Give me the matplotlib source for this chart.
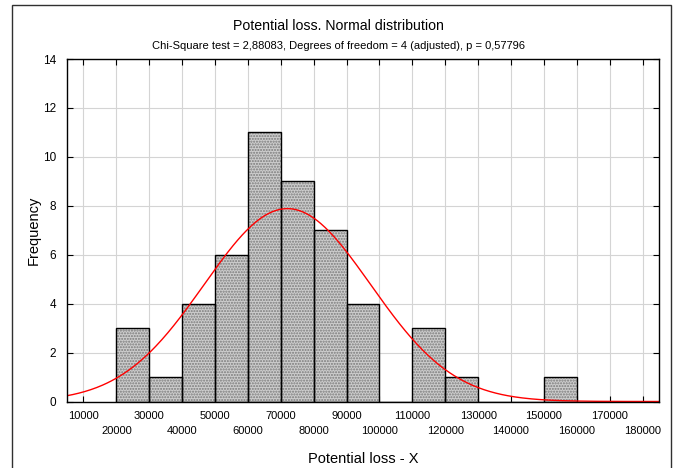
import numpy as np
import matplotlib
matplotlib.use("Agg")
import matplotlib.pyplot as plt
from matplotlib.patches import Rectangle

plt.rcParams["font.family"] = ["Liberation Sans", "DejaVu Sans"]

# histogram of potential loss, bin width 10000
bin_left = [20000, 30000, 40000, 50000, 60000, 70000, 80000,
            90000, 100000, 110000, 120000, 130000, 140000, 150000]
counts = [3, 1, 4, 6, 11, 9, 7, 4, 0, 3, 1, 0, 0, 1]
bin_width = 10000

# fitted normal
fit_mean = 72000
fit_sd = 25300

# x labels alternate between two rows
x_ticks_upper = list(range(10000, 180000, 20000))
x_ticks_lower = list(range(20000, 190000, 20000))
y_ticks = [0, 2, 4, 6, 8, 10, 12, 14]

title = "Potential loss. Normal distribution"
subtitle = "Chi-Square test = 2,88083, Degrees of freedom = 4 (adjusted), p = 0,57796"

fig = plt.figure(figsize=(6.75, 4.68), dpi=100)
W, H = 675, 468
ax = fig.add_axes([67 / W, 1 - 401.5 / H, (659 - 67) / W, (401.5 - 59) / H])

# stippled fill, then black outlines
ax.bar(bin_left, counts, width=bin_width, align="edge", facecolor="#cdcdcd",
       edgecolor="#7a7a7a", hatch="......", linewidth=0, zorder=2)
ax.bar(bin_left, counts, width=bin_width, align="edge", fill=False,
       edgecolor="black", linewidth=1.0, zorder=3)

n_total = sum(counts)
xs = np.linspace(5000, 185000, 400)
ys = n_total * bin_width / (fit_sd * np.sqrt(2 * np.pi)) * np.exp(-0.5 * ((xs - fit_mean) / fit_sd) ** 2)
ax.plot(xs, ys, color="red", linewidth=1.0, zorder=4)

ax.set_xlim(5000, 185000)
ax.set_ylim(0, 14)
ax.set_xticks(x_ticks_upper)
ax.set_xticklabels([str(v) for v in x_ticks_upper], fontsize=8)
ax.set_xticks(x_ticks_lower, minor=True)
ax.set_xticklabels([str(v) for v in x_ticks_lower], minor=True, fontsize=8)
ax.set_yticks(y_ticks)
ax.set_yticklabels([str(v) for v in y_ticks], fontsize=8.5)
ax.tick_params(which="both", direction="in", length=4, width=0.8, top=True, right=True)
ax.tick_params(axis="x", which="major", pad=7)
ax.tick_params(axis="x", which="minor", pad=18)
ax.tick_params(axis="y", pad=8)
ax.grid(True, which="both", axis="x", color="#d4d4d4", linestyle="-", linewidth=0.8, zorder=0)
ax.grid(True, axis="y", color="#d4d4d4", linestyle="-", linewidth=0.8, zorder=0)
ax.set_axisbelow(True)
for s in ax.spines.values():
    s.set_linewidth(1.0)
    s.set_zorder(5)

ax.set_xlabel("Potential loss - X", fontsize=10.5, labelpad=11)
ax.set_ylabel("Frequency", fontsize=10.5, labelpad=1)

fig.text(338 / W, 1 - 26 / H, title, ha="center", va="center", fontsize=10.2)
fig.text(338 / W, 1 - 46 / H, subtitle, ha="center", va="center", fontsize=8)

# outer frame
fig.patches.append(Rectangle((12 / W, -0.05), (671 - 12) / W, 1.05 - 5 / H,
                             transform=fig.transFigure, fill=False,
                             edgecolor="#303030", linewidth=1.0))

fig.savefig("out.png", dpi=100)
